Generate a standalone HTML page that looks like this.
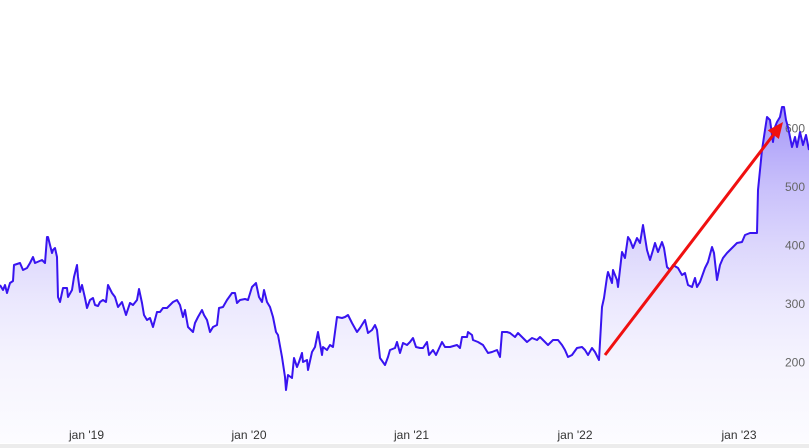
<!DOCTYPE html>
<html><head><meta charset="utf-8"><style>
html,body{margin:0;padding:0;background:#fff;}
svg{display:block;}
text{font-family:"Liberation Sans",Arial,sans-serif;font-size:12px;}
</style></head><body>
<svg width="809" height="448" viewBox="0 0 809 448" xmlns="http://www.w3.org/2000/svg">
<defs>
<linearGradient id="g" gradientUnits="userSpaceOnUse" x1="0" y1="105" x2="0" y2="443">
<stop offset="0" stop-color="rgb(60,30,240)" stop-opacity="0.45"/>
<stop offset="0.074" stop-color="rgb(60,30,240)" stop-opacity="0.41"/>
<stop offset="0.243" stop-color="rgb(60,30,240)" stop-opacity="0.28"/>
<stop offset="0.414" stop-color="rgb(60,30,240)" stop-opacity="0.18"/>
<stop offset="0.589" stop-color="rgb(60,30,240)" stop-opacity="0.10"/>
<stop offset="0.76" stop-color="rgb(60,30,240)" stop-opacity="0.05"/>
<stop offset="1" stop-color="rgb(60,30,240)" stop-opacity="0.015"/>
</linearGradient>
</defs>
<rect x="0" y="0" width="809" height="448" fill="#fff"/>
<polygon fill="url(#g)" points="0,443 0,285 3,290 5,285 7,293 10,283 13,281 14,265 20,263 23,270 27,268 30,263 33,257 35,263 42,260 45,263 47,237 48,237 52,253 53,250 55,248 57,257 58,297 60,302 63,288 67,288 68,297 72,290 74,277 77,265 78,277 80,292 82,285 85,298 87,308 90,300 93,298 95,305 98,306 100,302 103,300 106,302 108,285 112,293 115,297 118,307 122,302 126,315 130,303 133,305 137,300 139,289 142,303 144,315 147,320 150,318 153,327 157,312 160,312 163,308 167,308 170,305 173,302 177,300 180,305 183,317 185,310 188,327 193,332 195,323 198,317 202,310 204,315 207,320 210,332 213,327 217,325 219,308 223,307 227,300 232,293 235,293 237,303 240,300 245,299 248,300 252,287 256,283 259,297 262,302 264,290 267,302 270,307 273,317 276,332 278,335 282,357 285,377 286,390 288,375 292,378 294,358 297,367 299,362 302,353 303,362 307,360 308,370 312,352 315,347 318,332 322,355 323,347 327,350 330,345 333,347 337,317 342,318 345,317 348,315 352,323 357,332 360,328 365,320 368,333 372,330 375,325 377,330 380,358 385,365 388,357 390,350 395,348 397,342 400,353 403,343 407,345 410,342 413,338 416,347 420,348 423,348 427,342 429,355 433,350 436,355 442,342 445,347 450,347 457,345 460,348 462,337 467,337 468,332 472,335 473,340 478,342 483,345 488,353 492,352 497,350 500,357 502,332 507,332 510,333 515,337 518,333 523,338 527,342 532,338 537,340 540,337 545,342 548,345 553,340 558,340 562,345 565,350 568,357 572,355 577,348 582,347 585,350 588,355 592,348 595,352 599,360 602,307 604,298 607,277 608,272 612,283 613,270 617,280 618,287 622,252 625,258 628,237 630,240 633,248 637,238 640,243 643,225 647,250 650,260 653,250 655,243 658,252 662,242 664,248 667,267 670,270 673,265 678,268 682,275 685,273 688,285 692,287 695,278 697,287 700,282 705,268 708,262 712,247 714,253 717,280 720,265 723,258 727,253 732,248 737,243 742,242 745,235 750,233 757,233 758,190 760,170 762,150 765,130 767,117 768,118 770,120 773,142 775,127 777,122 780,117 782,107 784,107 786,120 788,127 792,147 795,137 797,147 800,132 803,145 806,135 809,150 809,443"/>
<g fill="#666" text-anchor="end">
<text x="805" y="132.3">600</text>
<text x="805" y="191">500</text>
<text x="805" y="249.5">400</text>
<text x="805" y="308">300</text>
<text x="805" y="366.7">200</text>
</g>
<polyline fill="none" stroke="#3814f0" stroke-width="2" stroke-linejoin="round" points="0,285 3,290 5,285 7,293 10,283 13,281 14,265 20,263 23,270 27,268 30,263 33,257 35,263 42,260 45,263 47,237 48,237 52,253 53,250 55,248 57,257 58,297 60,302 63,288 67,288 68,297 72,290 74,277 77,265 78,277 80,292 82,285 85,298 87,308 90,300 93,298 95,305 98,306 100,302 103,300 106,302 108,285 112,293 115,297 118,307 122,302 126,315 130,303 133,305 137,300 139,289 142,303 144,315 147,320 150,318 153,327 157,312 160,312 163,308 167,308 170,305 173,302 177,300 180,305 183,317 185,310 188,327 193,332 195,323 198,317 202,310 204,315 207,320 210,332 213,327 217,325 219,308 223,307 227,300 232,293 235,293 237,303 240,300 245,299 248,300 252,287 256,283 259,297 262,302 264,290 267,302 270,307 273,317 276,332 278,335 282,357 285,377 286,390 288,375 292,378 294,358 297,367 299,362 302,353 303,362 307,360 308,370 312,352 315,347 318,332 322,355 323,347 327,350 330,345 333,347 337,317 342,318 345,317 348,315 352,323 357,332 360,328 365,320 368,333 372,330 375,325 377,330 380,358 385,365 388,357 390,350 395,348 397,342 400,353 403,343 407,345 410,342 413,338 416,347 420,348 423,348 427,342 429,355 433,350 436,355 442,342 445,347 450,347 457,345 460,348 462,337 467,337 468,332 472,335 473,340 478,342 483,345 488,353 492,352 497,350 500,357 502,332 507,332 510,333 515,337 518,333 523,338 527,342 532,338 537,340 540,337 545,342 548,345 553,340 558,340 562,345 565,350 568,357 572,355 577,348 582,347 585,350 588,355 592,348 595,352 599,360 602,307 604,298 607,277 608,272 612,283 613,270 617,280 618,287 622,252 625,258 628,237 630,240 633,248 637,238 640,243 643,225 647,250 650,260 653,250 655,243 658,252 662,242 664,248 667,267 670,270 673,265 678,268 682,275 685,273 688,285 692,287 695,278 697,287 700,282 705,268 708,262 712,247 714,253 717,280 720,265 723,258 727,253 732,248 737,243 742,242 745,235 750,233 757,233 758,190 760,170 762,150 765,130 767,117 768,118 770,120 773,142 775,127 777,122 780,117 782,107 784,107 786,120 788,127 792,147 795,137 797,147 800,132 803,145 806,135 809,150"/>
<line x1="605" y1="355" x2="774" y2="134" stroke="#f01010" stroke-width="3"/>
<polygon fill="#f01010" points="783,122 778.9,139 767.7,130.4"/>
<g fill="#333" text-anchor="middle">
<text x="86.5" y="439">jan '19</text>
<text x="249" y="439">jan '20</text>
<text x="411.5" y="439">jan '21</text>
<text x="575" y="439">jan '22</text>
<text x="739" y="439">jan '23</text>
</g>
<rect x="0" y="444" width="809" height="4" fill="#ececec"/>
</svg>
</body></html>
